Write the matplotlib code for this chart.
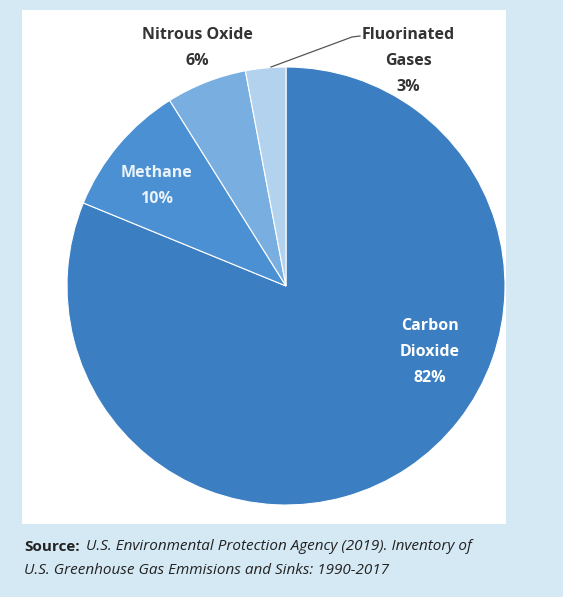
import matplotlib.pyplot as plt
from matplotlib.patches import Rectangle

gases = ["Carbon Dioxide", "Methane", "Nitrous Oxide", "Fluorinated Gases"]
shares = [82, 10, 6, 3]
labels = ["Carbon\nDioxide\n82%", "Methane\n10%", "Nitrous Oxide\n6%", "Fluorinated\nGases\n3%"]
colors = ["#3b7ec2", "#4a90d2", "#79aee0", "#b3d2ee"]

W, H = 563, 597
fig = plt.figure(figsize=(W / 100, H / 100), dpi=100)
fig.patch.set_facecolor("#d5e9f4")

# white panel behind the pie
bg = fig.add_axes([0, 0, 1, 1])
bg.set_xlim(0, W)
bg.set_ylim(H, 0)
bg.axis("off")
bg.add_patch(Rectangle((22, 10), 484, 514, facecolor="white", edgecolor="none"))

# pie
cx, cy, r = 286, 286, 219
pax = fig.add_axes([(cx - r) / W, (H - cy - r) / H, 2 * r / W, 2 * r / H])
pax.pie(shares, colors=colors, startangle=90, counterclock=False,
        wedgeprops=dict(edgecolor="white", linewidth=0.8))
pax.set_xlim(-1, 1)
pax.set_ylim(-1, 1)
pax.axis("off")

# text layer on top, pixel coordinates
tx = fig.add_axes([0, 0, 1, 1])
tx.set_xlim(0, W)
tx.set_ylim(H, 0)
tx.axis("off")
tx.patch.set_alpha(0)

font = "Open Sans"
lab = dict(fontsize=11.5, fontweight="bold", ha="center", va="center",
           linespacing=1.85, family=font)
tx.text(430, 352, labels[0], color="white", **lab)
tx.text(157, 186, labels[1], color="#eaf2fa", **lab)
tx.text(197, 48, labels[2], color="#333333", **lab)
tx.text(408, 61, labels[3], color="#333333", **lab)
tx.plot([271, 352, 360], [67, 37, 36], color="#555555", linewidth=0.9)

tx.text(24, 547, "Source:", fontsize=11, fontweight="bold", color="#222222",
        ha="left", va="center", family=font)
tx.text(86, 547, "U.S. Environmental Protection Agency (2019). Inventory of",
        fontsize=11, style="italic", color="#222222", ha="left", va="center", family=font)
tx.text(24, 570, "U.S. Greenhouse Gas Emmisions and Sinks: 1990-2017",
        fontsize=11, style="italic", color="#222222", ha="left", va="center", family=font)

fig.savefig("out.png", dpi=100, facecolor=fig.get_facecolor())
